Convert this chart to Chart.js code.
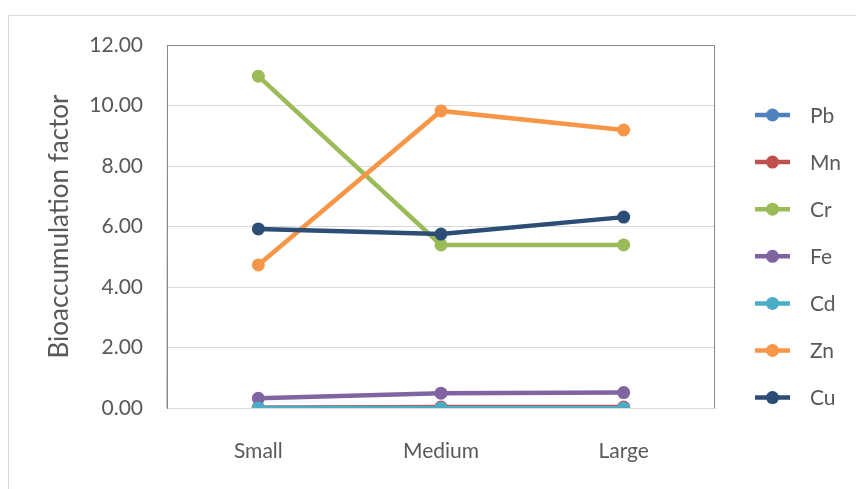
<!DOCTYPE html>
<html lang="en">
<head>
<meta charset="UTF-8">
<title>Bioaccumulation factor</title>
<script src="https://cdn.jsdelivr.net/npm/chart.js"></script>
<style>
  body { margin: 0; background: #fff; }
  #frame {
    position: absolute; left: 8px; top: 15px; right: 0; bottom: 0;
    border-left: 1px solid #d9d9d9; border-top: 1px solid #d9d9d9;
  }
  #wrap { position: absolute; left: 0; top: 0; width: 856px; height: 489px; }
</style>
</head>
<body>
<div id="frame"></div>
<div id="wrap"><canvas id="myChart" width="856" height="489"></canvas></div>

<script>
// categories and series
const sizes = ['Small', 'Medium', 'Large'];
const metals = ['Pb', 'Mn', 'Cr', 'Fe', 'Cd', 'Zn', 'Cu'];
const pb = [0.00, 0.01, 0.01];
const mn = [0.01, 0.03, 0.03];
const cr = [10.97, 5.39, 5.39];
const fe = [0.32, 0.49, 0.51];
const cd = [0.00, 0.00, 0.00];
const zn = [4.73, 9.82, 9.19];
const cu = [5.92, 5.75, 6.31];
const seriesValues = [pb, mn, cr, fe, cd, zn, cu];
const colors = ['#4f81bd', '#c0504d', '#9bbb59', '#8064a2', '#4bacc6', '#f79646', '#2c4d75'];

const FONT = 'Lato, "Open Sans", sans-serif';
const TXT = '#595959';

let datasets = metals.map((m, i) => ({
    label: m,
    data: seriesValues[i],
    borderColor: colors[i],
    backgroundColor: colors[i],
    borderWidth: 4.5,
    pointRadius: 6.5,
    pointHoverRadius: 6.5,
    pointBorderWidth: 0,
    order: metals.length - i
}));

// plot area frame (top + right edges)
const frame = {
    id: 'frame',
    beforeDatasetsDraw(chart) {
        const a = chart.chartArea, c = chart.ctx;
        c.save();
        c.strokeStyle = '#898989';
        c.lineWidth = 1;
        c.beginPath();
        c.moveTo(a.left, a.bottom);
        c.lineTo(a.left + 0.5, a.top + 0.5);
        c.lineTo(a.right - 0.5, a.top + 0.5);
        c.lineTo(a.right - 0.5, a.bottom);
        c.stroke();
        c.restore();
    }
};

// legend: line with marker, then label
const sideLegend = {
    id: 'sideLegend',
    afterDraw(chart) {
        const c = chart.ctx;
        const x0 = 755, x1 = 790, tx = 810;
        const y0 = 115, step = 47.1;
        c.save();
        c.font = '21px ' + FONT;
        c.textBaseline = 'middle';
        c.fillStyle = TXT;
        chart.data.datasets.forEach((ds, i) => {
            const y = y0 + i * step;
            c.strokeStyle = ds.borderColor;
            c.lineWidth = 4.5;
            c.beginPath();
            c.moveTo(x0, y);
            c.lineTo(x1, y);
            c.stroke();
            c.fillStyle = ds.borderColor;
            c.beginPath();
            c.arc((x0 + x1) / 2, y, 6.5, 0, Math.PI * 2);
            c.fill();
            c.fillStyle = TXT;
            c.fillText(ds.label, tx, y + 1);
        });
        c.restore();
    }
};

const ctx = document.getElementById('myChart').getContext('2d');
new Chart(ctx, {
    type: 'line',
    data: { labels: sizes, datasets: datasets },
    options: {
        responsive: false,
        animation: false,
        events: [],
        layout: { padding: { top: 45, right: 141, bottom: 0, left: 0 } },
        plugins: { legend: { display: false }, tooltip: { enabled: false } },
        scales: {
            x: {
                offset: true,
                grid: { display: false, drawTicks: false },
                border: { display: true, color: '#d9d9d9', width: 1 },
                ticks: { color: TXT, padding: 31, font: { family: FONT, size: 21 } },
                afterFit(s) { s.height = 81; }
            },
            y: {
                min: 0, max: 12,
                ticks: {
                    stepSize: 2, color: TXT, padding: 24,
                    font: { family: FONT, size: 21 },
                    callback: v => v.toFixed(2)
                },
                grid: { color: '#d9d9d9', lineWidth: 1, drawTicks: false },
                border: { display: true, color: '#898989', width: 1 },
                title: {
                    display: true, text: 'Bioaccumulation factor', color: TXT,
                    font: { family: FONT, size: 26 }, padding: { top: 44, bottom: 0 }
                },
                afterFit(s) { s.width = 167; }
            }
        }
    },
    plugins: [frame, sideLegend]
});
</script>
</body>
</html>
